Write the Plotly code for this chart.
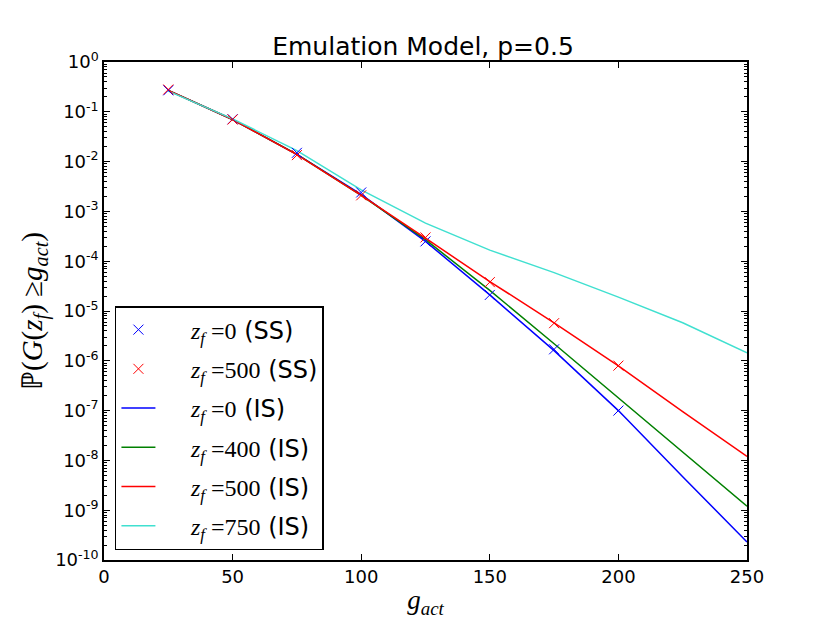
import plotly.graph_objects as go

# SS (markers) and IS (lines) estimates
g_ss = [25, 50, 75, 100, 125, 150, 175, 200]
p_ss_0 = [0.27, 0.071, 0.0150, 0.0024, 2.5e-4, 2.1e-5, 1.7e-6, 1.0e-7]
p_ss_500 = [0.28, 0.070, 0.0135, 0.0021, 3.0e-4, 3.8e-5, 5.7e-6, 8.0e-7]

g_is = [25, 50, 75, 100, 125, 150, 175, 200, 225, 250]
p_is_0 = [0.27, 0.070, 0.0140, 0.0022, 2.5e-4, 2.1e-5, 1.6e-6, 1.0e-7, 4.7e-9, 2.3e-10]
p_is_400 = [0.27, 0.070, 0.0140, 0.0021, 2.7e-4, 2.6e-5, 2.2e-6, 1.8e-7, 1.5e-8, 1.2e-9]
p_is_500 = [0.27, 0.070, 0.0138, 0.0021, 2.9e-4, 3.9e-5, 5.8e-6, 7.9e-7, 9.5e-8, 1.2e-8]
p_is_750 = [0.26, 0.072, 0.0166, 0.0027, 5.8e-4, 1.67e-4, 5.9e-5, 1.9e-5, 5.8e-6, 1.45e-6]

y_tickvals = [10.0 ** -k for k in range(0, 11)]
y_ticktext = ['10<sup>%d</sup>' % -k for k in range(0, 11)]

SERIF = "Liberation Serif"


def zlabel(val, kind):
    # leading spaces leave a gap between the legend symbol and the text
    return ("&nbsp;&nbsp;&nbsp;&nbsp;<span style='font-family:%s'><i>z<sub>f</sub></i> =%s</span> (%s)"
            % (SERIF, val, kind))


fig = go.Figure()

lines = [
    (p_is_0, 0, '#0000ff'),
    (p_is_400, 400, '#008000'),
    (p_is_500, 500, '#ff0000'),
    (p_is_750, 750, '#40e0d0'),
]
for i, (vals, z, color) in enumerate(lines):
    fig.add_trace(go.Scatter(
        x=g_is, y=vals, mode='lines', name=zlabel(z, 'IS'),
        legendgroup='l%d' % i, legendrank=3 + i,
        line=dict(color=color, width=1.5)
    ))

# markers on top of the lines, but first in the legend
fig.add_trace(go.Scatter(
    x=g_ss, y=p_ss_0, mode='markers', name=zlabel(0, 'SS'),
    legendgroup='a', legendrank=1,
    marker=dict(symbol='x-thin', size=10, line=dict(color='#0000ff', width=1))
))
fig.add_trace(go.Scatter(
    x=g_ss, y=p_ss_500, mode='markers', name=zlabel(500, 'SS'),
    legendgroup='b', legendrank=2,
    marker=dict(symbol='x-thin', size=10, line=dict(color='#ff0000', width=1))
))

fig.update_layout(
    width=830, height=623,
    margin=dict(l=96, r=91, t=54, b=71),
    paper_bgcolor='white', plot_bgcolor='white',
    font=dict(family='DejaVu Sans', size=18, color='black'),
    title=dict(text='Emulation Model, p=0.5', x=0.5, xanchor='center',
               y=0.925, yanchor='bottom', font=dict(size=25)),
    showlegend=True,
    legend=dict(x=0.017, y=0.02, xanchor='left', yanchor='bottom',
                bgcolor='white', bordercolor='black', borderwidth=1.5,
                font=dict(size=24), tracegroupgap=5, itemwidth=34,
                traceorder='grouped'),
    xaxis=dict(
        range=[0, 250], dtick=50, tick0=0,
        showline=True, linecolor='black', linewidth=1.5, mirror='ticks',
        ticks='inside', ticklen=6, tickcolor='black',
        showgrid=False, zeroline=False,
        title=dict(text='<i>g<sub>act</sub></i>', standoff=4,
                   font=dict(family=SERIF, size=27)),
    ),
    yaxis=dict(
        type='log', range=[-10, 0],
        tickmode='array', tickvals=y_tickvals, ticktext=y_ticktext,
        showline=True, linecolor='black', linewidth=1.5, mirror='ticks',
        ticks='inside', ticklen=6, tickcolor='black',
        showgrid=False, zeroline=False,
        minor=dict(ticks='inside', ticklen=3, tickcolor='black', dtick='D1', showgrid=False),
        title=dict(text='ℙ(<i>G</i>(<i>z<sub>f</sub></i>) ≥<i>g<sub>act</sub></i>)',
                   standoff=4, font=dict(family=SERIF, size=29)),
    ),
)

fig.write_html("out.html")
